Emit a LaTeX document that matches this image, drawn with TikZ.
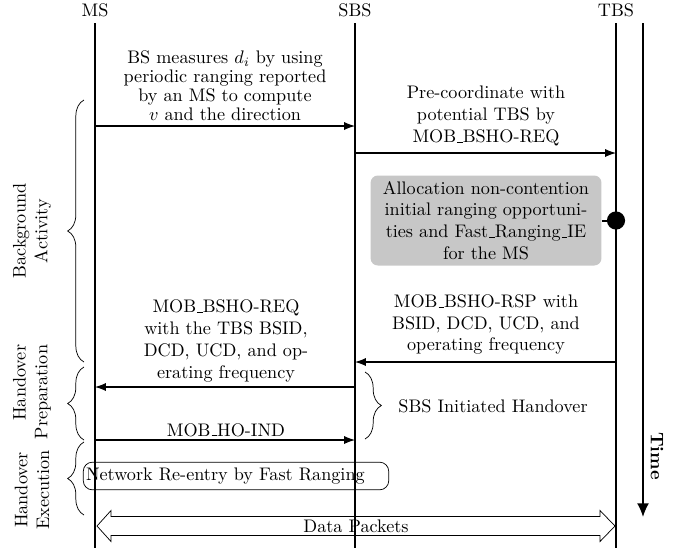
\documentclass[tikz,border=0pt]{standalone}
\usetikzlibrary{arrows.meta,decorations.pathreplacing,positioning}
\newcommand{\usc}{\leavevmode\kern.06em\vbox{\hrule width.3em}}
\tikzset{
  lifeline/.style={line width=1.6pt},
  msg/.style={semithick,-{Latex[length=6pt,width=4.5pt]}},
  msglabel/.style={align=center,inner sep=0pt},
  phase/.style={decorate,decoration={brace,amplitude=9pt}},
  phaselabel/.style={rotate=90,align=center,inner sep=0pt},
}
\begin{document}
\begin{tikzpicture}[x=0.55pt,y=-0.55pt]
    \useasboundingbox (0,0) rectangle (691,548);
    % entities and lifelines
    \node[inner sep=0pt] (ms) at (95,10) {MS};
    \node[inner sep=0pt] (sbs) at (355,10) {SBS};
    \node[inner sep=0pt] (tbs) at (616,10) {TBS};
    \draw[lifeline] (ms |- 0,23) -- (ms |- 0,548);
    \draw[lifeline] (sbs |- 0,23) -- (sbs |- 0,548);
    \draw[lifeline] (tbs |- 0,23) -- (tbs |- 0,548);
    % time axis
    \draw[thick,-{Latex[length=7.5pt,width=6.5pt]}] (643,23) -- (643,517);
    \node[rotate=-90,font=\bfseries,inner sep=0pt] (time) at (657,456) {Time};
    % background activity
    \draw[msg] (ms |- 0,126) -- (sbs |- 0,126);
    \node[msglabel,font=\fontsize{10}{10.4}\selectfont] (measure) at (225,86)
        {BS measures $d_i$ by using\\periodic ranging reported\\by an MS to compute\\$v$ and the direction};
    \draw[msg] (sbs |- 0,153) -- (tbs |- 0,153);
    \node[msglabel] (precoord) at (486,116)
        {Pre-coordinate with\\potential TBS by\\MOB\usc BSHO-REQ};
    \node[fill=black!22,rounded corners=4pt,minimum width=127pt,minimum height=49.5pt,
        align=center,inner sep=0pt] (alloc) at (486,220.5)
        {Allocation non-contention\\initial ranging opportuni-\\ties and Fast\usc Ranging\usc IE\\for the MS};
    \node[circle,fill,minimum size=10pt,inner sep=0pt] (sync) at (tbs |- alloc.east) {};
    \draw[line width=1.1pt] (alloc.east) -- (sync);
    % handover preparation
    \draw[msg] (tbs |- 0,362) -- (sbs |- 0,362);
    \node[msglabel] (rsp) at (486,324.5)
        {MOB\usc BSHO-RSP with\\BSID, DCD, UCD, and\\operating frequency};
    \draw[msg] (sbs |- 0,387) -- (ms |- 0,387);
    \node[msglabel] (req) at (226,341)
        {MOB\usc BSHO-REQ\\with the TBS BSID,\\DCD, UCD, and op-\\erating frequency};
    \draw[msg] (ms |- 0,440) -- (sbs |- 0,440);
    \node[msglabel] (ind) at (226,430) {MOB\usc HO-IND};
    \draw[phase] (365,372) -- (365,439);
    \node[inner sep=0pt] (sbsho) at (493,406.5) {SBS Initiated Handover};
    % handover execution
    \node[draw,rounded corners=5pt,align=left,text width=165pt,inner xsep=1.5pt,
        inner ysep=0pt,minimum height=15.2pt] (reentry) at (236,476)
        {Network Re-entry by Fast Ranging};
    \draw (97,526) -- (111,510.5) -- (111,516.5) -- (600,516.5) -- (600,510.5)
        -- (615,526) -- (600,541.5) -- (600,535.5) -- (111,535.5) -- (111,541.5) -- cycle;
    \node[inner sep=0pt] (data) at (356,526) {Data Packets};
    % phases
    \draw[phase] (84,362) -- (84,100);
    \draw[phase] (84,440) -- (84,367);
    \draw[phase] (84,515) -- (84,442);
    \node[phaselabel] (bg) at (32,231) {Background\\Activity};
    \node[phaselabel,align=right] (prep) at (32,392) {Handover\\Preparation};
    \node[phaselabel] (exec) at (32,490) {Handover\\Execution};
\end{tikzpicture}
\end{document}
